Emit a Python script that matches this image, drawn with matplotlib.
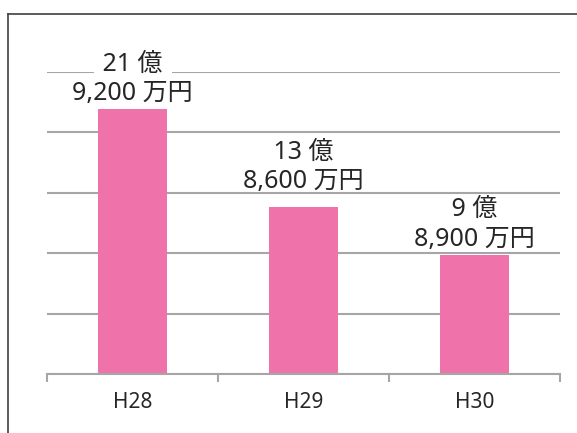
import numpy as np
import matplotlib
matplotlib.use("Agg")
import matplotlib.pyplot as plt
from matplotlib.lines import Line2D

plt.rcParams['font.family'] = ['Noto Sans', 'Noto Sans CJK JP']

# data (億円)
years = ['H28', 'H29', 'H30']
values = [21.92, 13.86, 9.89]
label_oku = ['21 億', '13 億', '9 億']
label_man = ['9,200 万円', '8,600 万円', '8,900 万円']

BAR = '#F072AA'
GRID = '#A6A6A6'
TEXT = '#262626'
# extra lift of labels (points), H29 label sits a bit higher in the original
lift = [0, 7, 0]

fig = plt.figure(figsize=(5.77, 4.33), dpi=100)
ax = fig.add_axes([47 / 577, 59 / 433, 513 / 577, 302 / 433])

x = np.arange(len(years))
ax.bar(x, values, width=0.4, color=BAR, zorder=2)

ax.set_xlim(-0.5, len(years) - 0.5)
ax.set_ylim(0, 25)
ax.set_yticks(np.arange(0, 26, 5))
ax.yaxis.grid(True, color=GRID, linewidth=1.5, zorder=0)
ax.set_axisbelow(True)
ax.tick_params(axis='y', left=False, labelleft=False)

# category boundaries as ticks, labels centred
ax.set_xticks(np.arange(-0.5, len(years)), minor=False)
ax.set_xticklabels([])
ax.set_xticks(x, minor=True)
ax.set_xticklabels(years, minor=True)
ax.tick_params(axis='x', which='major', length=6, width=1.5, color=GRID)
ax.tick_params(axis='x', which='minor', length=0, pad=13, labelsize=15, labelcolor=TEXT)

for s in ['top', 'right', 'left']:
    ax.spines[s].set_visible(False)
ax.spines['bottom'].set_color(GRID)
ax.spines['bottom'].set_linewidth(1.5)

# data labels: two lines above each bar
for xi, v, a, b, dl in zip(x, values, label_oku, label_man, lift):
    ax.annotate(f' {a} ', (xi, v), xytext=(0, 27.5 + dl), textcoords='offset points',
                ha='center', va='baseline', fontsize=18, color=TEXT, zorder=3,
                bbox=dict(boxstyle='square,pad=0.1', fc='white', ec='none'))
    ax.annotate(b, (xi, v), xytext=(0, 6.5 + dl), textcoords='offset points',
                ha='center', va='baseline', fontsize=18, color=TEXT, zorder=4)

# outer frame (cropped: only top and left visible)
fig.add_artist(Line2D([8 / 577, 8 / 577], [0, 1 - 14 / 433], color='#404040', lw=1.2))
fig.add_artist(Line2D([8 / 577, 1], [1 - 14 / 433, 1 - 14 / 433], color='#404040', lw=1.2))

fig.savefig('out.png', dpi=100)
